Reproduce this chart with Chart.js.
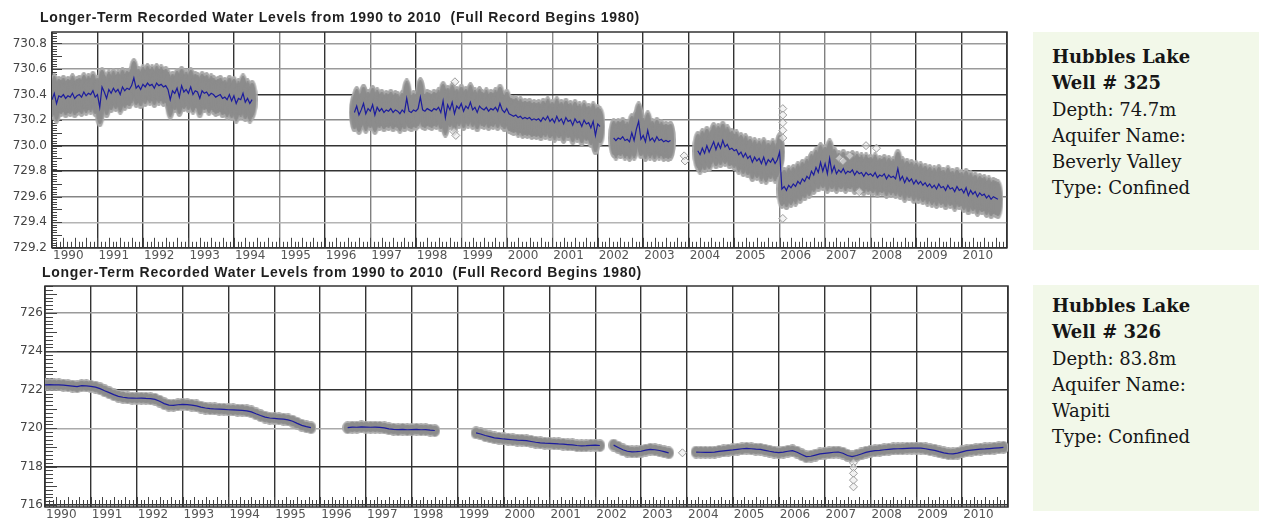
<!DOCTYPE html>
<html><head><meta charset="utf-8">
<script src="https://cdn.jsdelivr.net/npm/chart.js@4.4.1/dist/chart.umd.min.js"></script>
<style>
body{margin:0;background:#fff;width:1261px;height:519px;overflow:hidden;position:relative;}
canvas{position:absolute;left:0;}
.ttl{position:absolute;font:bold 14px "Liberation Sans",Arial,sans-serif;letter-spacing:0.7px;color:#1e1e1e;white-space:pre;line-height:16px;z-index:2}
.info{position:absolute;left:1033px;width:207px;background:#f2f8e9;padding-left:19px;font:18px "DejaVu Serif",serif;line-height:26.3px;color:#161616;}
.info b{font-weight:bold}
</style></head><body>
<canvas id="c325" width="1015" height="260" style="top:0"></canvas>
<canvas id="c326" width="1015" height="259" style="top:260px"></canvas>
<div class="ttl" style="left:40px;top:9px">Longer-Term Recorded Water Levels from 1990 to 2010  (Full Record Begins 1980)</div>
<div class="ttl" style="left:42px;top:264px">Longer-Term Recorded Water Levels from 1990 to 2010  (Full Record Begins 1980)</div>
<div class="info" style="top:32px;height:206px;padding-top:12px"><b>Hubbles Lake<br>Well # 325</b><br>Depth: 74.7m<br>Aquifer Name:<br>Beverly Valley<br>Type: Confined</div>
<div class="info" style="top:285px;height:218px;padding-top:8px"><b>Hubbles Lake<br>Well # 326</b><br>Depth: 83.8m<br>Aquifer Name:<br>Wapiti<br>Type: Confined</div>
<script>
// ---------- axis ticks ----------
const yearTicks = [1990,1991,1992,1993,1994,1995,1996,1997,1998,1999,2000,2001,2002,2003,2004,2005,2006,2007,2008,2009,2010,2011];
const yearLabels = ['1990','1991','1992','1993','1994','1995','1996','1997','1998','1999','2000','2001','2002','2003','2004','2005','2006','2007','2008','2009','2010',''];
const w325YTicks = [729.2,729.4,729.6,729.8,730.0,730.2,730.4,730.6,730.8];
const w325YLabels = ['729.2','729.4','729.6','729.8','730.0','730.2','730.4','730.6','730.8'];
const w326YTicks = [716,718,720,722,724,726];
const w326YLabels = ['716','718','720','722','724','726'];

// ---------- Well 325 water levels (m), sampled every 0.05 yr per segment ----------
const w325Step = 0.05;
const w325Seg1Start = 1990.0;
const w325Seg1 = [730.36,730.41,730.33,730.39,730.38,730.40,730.37,730.39,730.38,730.41,730.37,730.39,730.40,730.38,730.42,730.39,730.41,730.40,730.43,730.38,
730.40,730.30,730.46,730.42,730.37,730.44,730.41,730.45,730.42,730.44,730.40,730.46,730.43,730.45,730.44,730.47,730.53,730.45,730.47,730.44,
730.48,730.46,730.49,730.47,730.48,730.45,730.49,730.47,730.48,730.46,730.47,730.44,730.36,730.43,730.41,730.45,730.38,730.47,730.42,730.44,
730.41,730.46,730.40,730.43,730.42,730.37,730.43,730.41,730.42,730.39,730.41,730.40,730.38,730.39,730.40,730.37,730.38,730.36,730.40,730.35,
730.39,730.33,730.37,730.36,730.41,730.34,730.37,730.33,730.36];
const w325Seg2Start = 1996.65;
const w325Seg2 = [730.26,730.31,730.24,730.28,730.33,730.25,730.29,730.27,730.32,730.24,730.30,730.27,730.29,730.26,730.28,730.27,730.29,730.26,730.28,730.27,
730.25,730.28,730.26,730.37,730.27,730.26,730.28,730.27,730.29,730.38,730.28,730.27,730.29,730.28,730.27,730.29,730.28,730.30,730.26,730.35,
730.22,730.32,730.28,730.34,730.25,730.31,730.29,730.33,730.27,730.31,730.29,730.34,730.28,730.30,730.26,730.31,730.29,730.28,730.30,730.27,
730.29,730.28,730.30,730.27,730.33,730.28,730.26,730.29,730.25,730.24,730.23,730.24,730.22,730.23,730.21,730.22,730.21,730.22,730.20,730.21,
730.20,730.21,730.19,730.22,730.20,730.23,730.19,730.21,730.18,730.23,730.19,730.21,730.17,730.22,730.19,730.20,730.16,730.21,730.18,730.19,
730.15,730.20,730.17,730.18,730.14,730.19,730.08,730.17,730.15];
const w325Seg3Start = 2002.35;
const w325Seg3 = [730.06,730.04,730.06,730.05,730.07,730.04,730.05,730.03,730.10,730.04,730.13,730.19,730.05,730.08,730.03,730.12,730.04,730.06,730.03,730.07,
730.04,730.05,730.03,730.04,730.03,730.04];
const w325Seg4Start = 2004.2;
const w325Seg4 = [729.96,729.93,729.98,729.94,730.00,729.95,729.99,730.03,729.97,730.02,729.98,730.04,729.99,730.01,729.97,729.98,729.96,729.97,729.93,729.95,
729.91,729.94,729.90,729.92,729.87,729.91,729.88,729.90,729.86,729.91,729.85,729.89,729.87,729.90,729.86,729.89,729.95,729.66,729.68,729.65,
729.69,729.67,729.70,729.68,729.72,729.70,729.74,729.72,729.76,729.74,729.80,729.77,729.83,729.79,729.87,729.80,729.86,729.78,729.90,729.79,
729.84,729.78,729.81,729.79,729.82,729.78,729.80,729.79,729.81,729.77,729.80,729.78,729.79,729.76,729.79,729.77,729.78,729.76,729.79,729.75,
729.77,729.76,729.78,729.74,729.77,729.75,729.76,729.74,729.82,729.73,729.76,729.71,729.75,729.72,729.74,729.70,729.73,729.70,729.72,729.69,
729.71,729.68,729.70,729.67,729.69,729.66,729.70,729.67,729.68,729.65,729.69,729.66,729.67,729.64,729.68,729.65,729.66,729.63,729.67,729.61,
729.65,729.62,729.64,729.60,729.63,729.61,729.62,729.59,729.61,729.58,729.60,729.59,729.58];
const w325OutlierYears  = [1998.86,1998.84,1998.88,2003.90,2003.92,2006.07,2006.07,2006.07,2006.07,2006.07,2006.07,2007.32,2007.39,2007.54,2007.90,2008.13,2007.75];
const w325OutlierLevels = [730.50,730.11,730.08,729.92,729.88,730.29,730.24,730.18,730.12,730.06,729.43,729.90,729.88,729.92,730.00,729.98,729.64];

// ---------- Well 326 water levels (m), sampled every 0.1 yr per segment ----------
const w326Step = 0.1;
const w326Seg1Start = 1990.0;
const w326Seg1 = [722.26,722.27,722.26,722.25,722.24,722.22,722.19,722.16,722.22,722.20,722.18,722.14,722.06,721.95,721.85,721.75,721.66,721.61,721.58,721.57,
721.56,721.57,721.55,721.54,721.50,721.40,721.28,721.20,721.19,721.22,721.24,721.23,721.20,721.16,721.10,721.05,721.02,721.00,720.99,720.98,
720.96,720.95,720.94,720.93,720.90,720.85,720.75,720.66,720.58,720.53,720.51,720.49,720.47,720.43,720.36,720.25,720.15,720.08,720.03];
const w326Seg2Start = 1996.6;
const w326Seg2 = [720.03,720.06,720.05,720.07,720.06,720.05,720.06,720.04,720.02,719.97,719.94,719.93,719.94,719.92,719.93,719.94,719.92,719.93,719.90,719.88];
const w326Seg3Start = 1999.4;
const w326Seg3 = [719.76,719.70,719.62,719.56,719.50,719.47,719.44,719.42,719.40,719.38,719.37,719.35,719.31,719.27,719.24,719.22,719.21,719.20,719.18,719.17,
719.15,719.13,719.10,719.08,719.09,719.11,719.12,719.10];
const w326Seg4Start = 2002.4;
const w326Seg4 = [719.12,719.00,718.88,718.80,718.77,718.78,718.80,718.86,718.90,718.88,718.84,718.78,718.72];
const w326Seg5Start = 2004.2;
const w326Seg5 = [718.76,718.75,718.74,718.74,718.76,718.79,718.82,718.85,718.87,718.90,718.93,718.95,718.93,718.91,718.90,718.85,718.80,718.76,718.73,718.76,
718.80,718.83,718.75,718.63,718.52,718.54,718.60,718.66,718.69,718.72,718.75,718.76,718.70,718.58,718.52,718.58,718.66,718.74,718.79,718.83,
718.85,718.88,718.90,718.92,718.93,718.94,718.95,718.96,718.97,718.96,718.93,718.89,718.85,718.78,718.72,718.68,718.66,718.70,718.77,718.83,
718.86,718.89,718.91,718.92,718.94,718.96,718.98,719.00];
const w326OutlierYears  = [2003.90,2007.63,2007.63,2007.63,2007.63,2007.63];
const w326OutlierLevels = [718.72,718.20,717.95,717.65,717.30,716.95];

// ---------- helpers ----------
function buildSeries(segs, step) {
  const pts = [];
  segs.forEach((s, si) => {
    if (si > 0) pts.push({x: s[0] - 0.02, y: null});
    s[1].forEach((v, i) => pts.push({x: +(s[0] + i * step).toFixed(4), y: v}));
  });
  return pts;
}
function pairs(xs, ys) { return xs.map((x, i) => ({x, y: ys[i]})); }
function blob(w, h, fill) {
  const c = document.createElement('canvas'); c.width = w; c.height = h;
  const g = c.getContext('2d');
  g.beginPath(); g.ellipse(w / 2, h / 2, w / 2, h / 2, 0, 0, Math.PI * 2);
  g.fillStyle = fill; g.fill();
  return c;
}

const rugPlugin = {
  id: 'rug',
  beforeDatasetsDraw(chart, args, o) {
    const {ctx, chartArea: a, scales: {x, y}} = chart;
    ctx.save(); ctx.strokeStyle = o.color; ctx.lineWidth = 1; ctx.beginPath();
    const nx = Math.round((x.max - x.min) / o.xStep);
    for (let k = 1; k < nx; k++) {
      const px = Math.round(x.getPixelForValue(x.min + k * o.xStep)) + 0.5;
      const len = k % o.xMajorEvery === 0 ? o.xMajorLen : o.xLen;
      ctx.moveTo(px, a.bottom); ctx.lineTo(px, a.bottom - len);
    }
    for (let k = 0; ; k++) {
      const v = o.yStart + k * o.yStep;
      if (v > y.max) break;
      const py = Math.round(y.getPixelForValue(v)) + 0.5;
      const len = k % o.yMajorEvery === 0 ? o.yMajorLen : o.yLen;
      ctx.moveTo(a.left, py); ctx.lineTo(a.left + len, py);
    }
    ctx.stroke();
    ctx.strokeStyle = o.frame; ctx.lineWidth = 1.5;
    ctx.strokeRect(a.left, a.top, a.right - a.left, a.bottom - a.top);
    ctx.restore();
  }
};

function makeChart(id, cfg) {
  return new Chart(document.getElementById(id), {
    type: 'line',
    data: { datasets: [
      { data: cfg.series, showLine: false, pointStyle: cfg.blobOuter, pointRadius: 5, clip: 0, order: 4 },
      { data: cfg.series, showLine: false, pointStyle: cfg.blobInner, pointRadius: 5, clip: 0, order: 3 },
      { data: cfg.outliers, showLine: false, pointStyle: 'rectRot', pointRadius: 4, borderWidth: 1,
        borderColor: '#9c9c9c', backgroundColor: 'rgba(235,235,235,0.6)', clip: 0, order: 2 },
      { data: cfg.series, borderColor: '#1c1c9e', borderWidth: 1.2, pointRadius: 0, spanGaps: false, tension: 0, clip: 0, order: 1 }
    ]},
    options: {
      responsive: false, animation: false, devicePixelRatio: 1,
      layout: { padding: cfg.padding },
      plugins: { legend: { display: false }, tooltip: { enabled: false }, rug: cfg.rug },
      scales: {
        x: {
          type: 'linear', min: 1990, max: 2011,
          afterBuildTicks: s => { s.ticks = yearTicks.map(v => ({value: v})); },
          afterFit: s => { s.height = 12; },
          border: { display: false },
          grid: { drawTicks: false, color: c => cfg.vColors[c.index] || '#333', lineWidth: 1.4 },
          ticks: { autoSkip: false, maxRotation: 0, align: 'start', padding: 1, labelOffset: 1,
                   color: '#555', font: { family: 'DejaVu Sans', size: 12 },
                   callback: (v, i) => yearLabels[i] }
        },
        y: {
          type: 'linear', min: cfg.yMin, max: cfg.yMax,
          afterBuildTicks: s => { s.ticks = cfg.yTicks.map(v => ({value: v})); },
          afterFit: s => { s.width = cfg.yWidth; },
          border: { display: false },
          grid: { drawTicks: false, color: c => cfg.hColors[c.index] || '#333', lineWidth: 1.4 },
          ticks: { autoSkip: false, padding: cfg.yPad, color: '#444', font: { family: 'DejaVu Sans', size: 12 },
                   callback: (v, i) => cfg.yLabels[i] }
        }
      }
    },
    plugins: [rugPlugin]
  });
}

makeChart('c325', {
  series: buildSeries([[w325Seg1Start, w325Seg1],[w325Seg2Start, w325Seg2],[w325Seg3Start, w325Seg3],[w325Seg4Start, w325Seg4]], w325Step),
  outliers: pairs(w325OutlierYears, w325OutlierLevels),
  blobOuter: blob(11, 40, '#a9a9a9'),
  blobInner: blob(8, 34, '#8c8c8c'),
  padding: { top: 32, left: 0, right: 8, bottom: 0 },
  yMin: 729.2, yMax: 730.89, yTicks: w325YTicks, yLabels: w325YLabels, yWidth: 52, yPad: 5,
  hColors: ['#333','#b4b4b4','#858585','#333','#333','#8a8a8a','#333','#9a9a9a','#9a9a9a'],
  vColors: ['#333','#333','#333','#333','#333','#808080','#333','#808080','#333','#8a8a8a','#808080','#8a8a8a','#333','#333','#333','#333','#808080','#808080','#8a8a8a','#333','#333','#333'],
  rug: { color: '#444', frame: '#333', xStep: 1/12, xLen: 6, xMajorEvery: 3, xMajorLen: 10, yStart: 729.2, yStep: 0.02, yLen: 5, yMajorEvery: 5, yMajorLen: 10 }
});

makeChart('c326', {
  series: buildSeries([[w326Seg1Start, w326Seg1],[w326Seg2Start, w326Seg2],[w326Seg3Start, w326Seg3],[w326Seg4Start, w326Seg4],[w326Seg5Start, w326Seg5]], w326Step),
  outliers: pairs(w326OutlierYears, w326OutlierLevels),
  blobOuter: blob(11, 13, '#a9a9a9'),
  blobInner: blob(8, 10, '#8c8c8c'),
  padding: { top: 26, left: 0, right: 7, bottom: 0 },
  yMin: 715.9, yMax: 727.4, yTicks: w326YTicks, yLabels: w326YLabels, yWidth: 45, yPad: 2,
  hColors: ['#333','#333','#aaaaaa','#333','#333','#9a9a9a'],
  vColors: [],
  rug: { color: '#444', frame: '#333', xStep: 1/12, xLen: 7, xMajorEvery: 3, xMajorLen: 10, yStart: 716, yStep: 0.2, yLen: 8, yMajorEvery: 5, yMajorLen: 12 }
});
</script>
</body></html>
